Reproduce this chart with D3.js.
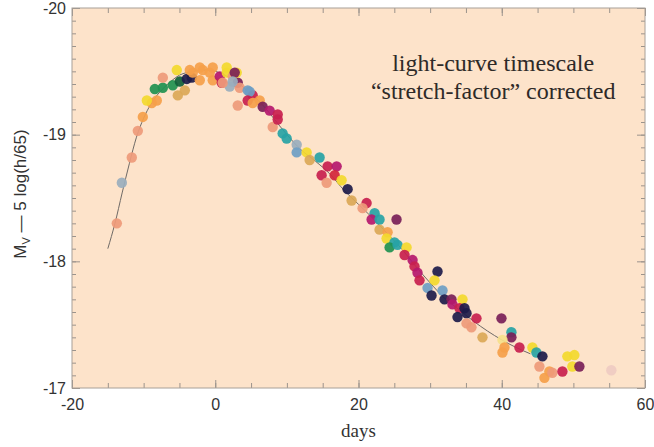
<!DOCTYPE html>
<html>
<head>
<meta charset="utf-8">
<script src="https://cdn.jsdelivr.net/npm/d3@7"></script>
<style>
  body { margin: 0; background: #fff; }
  svg { display: block; }
</style>
</head>
<body>
<div id="lcChart"></div>
<script>
// supernova light-curve points (days, M_V - 5log(h/65), colour group)
var days = [-13.74, -13.04, -11.65, -10.81, -10.11, -8.86, -8.16, -9.55, -8.44, -7.32,
    -5.93, -4.95, -3.97, -3.28, -7.32, -5.37, -5.23, -4.25, -3.14, -1.74,
    -0.77, -2.16, -0.35, 0.63, 0.91, 1.60, 2.44, 3.14, 2.02, 3.42,
    4.53, 3.14, 5.23, 6.21, 6.62, 7.60, 8.72, 8.02, 9.41, 9.97,
    11.37, 11.37, 12.76, 13.18, 14.57, -3.56, 1.60, 3.00, -2.16, -0.35,
    2.72, 1.05, 2.44, 4.81, 4.53, 5.23, 8.72, 15.69, 16.95, 14.85,
    16.67, 15.55, 17.64, 18.48, 19.04, 21.13, 20.57, 22.25, 21.83, 22.94,
    25.31, 22.94, 24.06, 23.92, 25.03, 24.34, 25.45, 26.71, 26.43, 27.55,
    27.82, 28.24, 28.52, 31.03, 30.61, 29.64, 30.20, 31.73, 32.01, 32.98,
    33.12, 34.52, 34.10, 34.80, 33.82, 35.08, 36.47, 35.08, 35.77, 37.31,
    39.96, 41.35, 41.35, 40.10, 40.38, 40.10, 42.47, 44.28, 44.84, 45.68,
    45.26, 46.65, 45.96, 47.07, 48.47, 49.16, 50.14, 49.86, 50.84, 55.30];

var mags = [-18.30, -18.62, -18.82, -19.03, -19.14, -19.25, -19.27, -19.27, -19.36, -19.37,
    -19.39, -19.42, -19.44, -19.45, -19.45, -19.51, -19.31, -19.35, -19.49, -19.51,
    -19.49, -19.43, -19.43, -19.46, -19.41, -19.49, -19.46, -19.41, -19.38, -19.37,
    -19.35, -19.23, -19.31, -19.27, -19.22, -19.19, -19.16, -19.06, -19.01, -18.97,
    -18.92, -18.86, -18.86, -18.80, -18.82, -19.51, -19.53, -19.49, -19.53, -19.53,
    -19.49, -19.41, -19.42, -19.34, -19.27, -19.25, -19.12, -18.75, -18.75, -18.68,
    -18.68, -18.62, -18.64, -18.57, -18.48, -18.46, -18.42, -18.38, -18.33, -18.33,
    -18.33, -18.25, -18.23, -18.18, -18.15, -18.11, -18.13, -18.11, -18.05, -18.01,
    -17.96, -17.91, -17.85, -17.92, -17.85, -17.79, -17.73, -17.77, -17.70, -17.70,
    -17.66, -17.70, -17.63, -17.63, -17.56, -17.59, -17.55, -17.51, -17.48, -17.40,
    -17.55, -17.44, -17.40, -17.38, -17.32, -17.28, -17.32, -17.32, -17.28, -17.25,
    -17.17, -17.13, -17.08, -17.12, -17.13, -17.25, -17.26, -17.17, -17.17, -17.14];

var groups = ["salmon", "grayblue", "salmon", "salmon", "orange", "orange", "orange", "yellow", "green", "green",
    "green", "dkgreen", "navy", "navy", "salmon", "yellow", "tan", "tan", "orange", "orange",
    "orange", "orange", "orange", "magenta", "crimson", "yellow", "salmon", "purple", "grayblue", "salmon",
    "steel", "salmon", "crimson", "orange", "purple", "magenta", "crimson", "salmon", "teal", "teal",
    "grayblue", "steel", "yellow", "tan", "teal", "orange", "yellow", "yellow", "orange", "orange",
    "purple", "salmon", "grayblue", "steel", "crimson", "orange", "crimson", "crimson", "magenta", "crimson",
    "red", "salmon", "yellow", "navy", "tan", "crimson", "salmon", "teal", "magenta", "teal",
    "purple", "tan", "orange", "yellow", "teal", "green", "teal", "yellow", "crimson", "magenta",
    "crimson", "magenta", "crimson", "navy", "yellow", "steel", "navy", "steel", "navy", "purple",
    "magenta", "yellow", "crimson", "navy", "navy", "navy", "crimson", "salmon", "salmon", "tan",
    "purple", "teal", "purple", "paleyellow", "orange", "orange", "crimson", "yellow", "teal", "navy",
    "salmon", "orange", "orange", "salmon", "crimson", "yellow", "yellow", "yellow", "purple", "pink"];

// template light curve drawn under the points
var tplDays = [-15, -14, -13, -12, -11, -10, -9, -8, -7, -6, -5, -4, -3, -2, -1, 0, 1, 2, 3, 4,
    5, 6, 7, 8, 10, 12, 14, 16, 18, 20, 22, 24, 26, 28, 30, 32, 34, 36, 38, 40, 42, 44];
var tplMags = [-18.10, -18.30, -18.54, -18.77, -18.98, -19.13, -19.24, -19.32, -19.38, -19.43,
    -19.47, -19.49, -19.50, -19.51, -19.51, -19.50, -19.48, -19.45, -19.42, -19.37,
    -19.32, -19.27, -19.21, -19.14, -19.00, -18.88, -18.79, -18.69, -18.56, -18.45,
    -18.34, -18.22, -18.10, -17.96, -17.83, -17.71, -17.62, -17.53, -17.45, -17.38, -17.32, -17.27];

var xMajor = [-20, 0, 20, 40, 60];
var yMajor = [-20, -19, -18, -17];

var groupNames = ["salmon", "orange", "tan", "yellow", "paleyellow", "green", "dkgreen", "teal", "steel",
    "grayblue", "navy", "crimson", "magenta", "purple", "red", "pink"];
var groupColors = ["#ee9a7a", "#f5a04a", "#dba857", "#f3d92e", "#f6df8a", "#1f9150", "#10603a", "#27a3a5", "#6e9ec4",
    "#9aaebd", "#1d1b4a", "#c8204e", "#b5186e", "#7a1f58", "#d3253a", "#efcbc2"];

function lcChart_func () {
    var W = 654, H = 447,
        margin = {top: 8, right: 9, bottom: 59, left: 72},
        width = W - margin.left - margin.right,
        height = H - margin.top - margin.bottom,
        x = d3.scaleLinear().domain([-20, 60]).range([0, width]),
        y = d3.scaleLinear().domain([-20, -17]).range([0, height]),
        color = d3.scaleOrdinal().domain(groupNames).range(groupColors);

    var svg = d3.select("#lcChart").append("svg")
        .attr("width", W)
        .attr("height", H)
      .append("g")
        .attr("transform", "translate(" + margin.left + "," + margin.top + ")");

    svg.append("rect")
        .attr("width", width)
        .attr("height", height)
        .attr("fill", "#fde3ca");

    var xMinor = d3.range(-20, 60.1, 5),
        yMinor = d3.range(0, 31).map(function(i) { return -20 + i * 0.1; });

    // minor ticks all round, pointing in
    svg.append("g").attr("class", "ax")
        .attr("transform", "translate(0," + height + ")")
        .call(d3.axisBottom(x).tickValues(xMinor).tickSize(-5).tickFormat(""));
    svg.append("g").attr("class", "ax")
        .call(d3.axisTop(x).tickValues(xMinor).tickSize(-5).tickFormat(""));
    svg.append("g").attr("class", "ax")
        .call(d3.axisLeft(y).tickValues(yMinor).tickSize(-4).tickFormat(""));
    svg.append("g").attr("class", "ax")
        .attr("transform", "translate(" + width + ",0)")
        .call(d3.axisRight(y).tickValues(yMinor).tickSize(-4).tickFormat(""));

    // major ticks with labels
    svg.append("g").attr("class", "ax lab")
        .attr("transform", "translate(0," + height + ")")
        .call(d3.axisBottom(x).tickValues(xMajor).tickSize(-8).tickPadding(11).tickFormat(d3.format("d")));
    svg.append("g").attr("class", "ax lab")
        .call(d3.axisLeft(y).tickValues(yMajor).tickSize(-8).tickPadding(6).tickFormat(d3.format("d")));
    svg.append("g").attr("class", "ax")
        .call(d3.axisTop(x).tickValues(xMajor).tickSize(-8).tickFormat(""));
    svg.append("g").attr("class", "ax")
        .attr("transform", "translate(" + width + ",0)")
        .call(d3.axisRight(y).tickValues(yMajor).tickSize(-8).tickFormat(""));

    svg.selectAll(".ax .domain").remove();
    svg.selectAll(".ax line").attr("stroke", "#9b938c");
    svg.selectAll(".lab text")
        .style("font-family", "'Liberation Sans', Arial, sans-serif")
        .style("font-size", "16px")
        .attr("fill", "#333")
        .text(function(d) { return d < 0 ? "-" + Math.abs(d) : d; });

    svg.append("rect")
        .attr("width", width)
        .attr("height", height)
        .attr("fill", "none")
        .attr("stroke", "#a8a098")
        .attr("stroke-width", 1);

    // template curve
    var tpl = tplDays.map(function(d, i) { return [d, tplMags[i]]; });
    svg.append("path")
        .datum(tpl)
        .attr("fill", "none")
        .attr("stroke", "#6f6a66")
        .attr("stroke-width", 1)
        .attr("d", d3.line()
            .x(function(d) { return x(d[0]); })
            .y(function(d) { return y(d[1]); })
            .curve(d3.curveMonotoneX));

    var pts = days.map(function(d, i) { return {day: d, mag: mags[i], grp: groups[i]}; });
    svg.append("g")
      .selectAll("circle")
        .data(pts)
        .enter()
        .append("circle")
        .attr("cx", function(d) { return x(d.day); })
        .attr("cy", function(d) { return y(d.mag); })
        .attr("r", 5.2)
        .attr("fill", function(d) { return color(d.grp); })
        .attr("fill-opacity", 0.92);

    // annotation, top right
    var note = svg.append("text")
        .attr("text-anchor", "middle")
        .style("font-family", "'Liberation Serif', 'Times New Roman', serif")
        .style("font-size", "24px")
        .attr("fill", "#2e2a28");
    note.append("tspan").attr("x", x(38.8)).attr("y", 63).text("light-curve timescale");
    note.append("tspan").attr("x", x(38.8)).attr("y", 91).text("\u201cstretch-factor\u201d corrected");

    svg.append("text")
        .attr("x", x(20))
        .attr("y", height + 49)
        .attr("text-anchor", "middle")
        .style("font-family", "'Liberation Serif', 'Times New Roman', serif")
        .style("font-size", "19px")
        .attr("fill", "#333")
        .text("days");

    var yt = svg.append("text")
        .attr("transform", "translate(" + (26 - margin.left) + "," + (194 - margin.top) + ") rotate(-90)")
        .attr("text-anchor", "middle")
        .style("font-family", "'Liberation Sans', Arial, sans-serif")
        .style("font-size", "17px")
        .attr("fill", "#333");
    yt.append("tspan").text("M");
    yt.append("tspan").attr("dy", 4).style("font-size", "11px").text("V");
    yt.append("tspan").attr("dy", -4).text(" \u2014 5 log(h/65)");
}

lcChart_func ();
</script>
</body>
</html>
